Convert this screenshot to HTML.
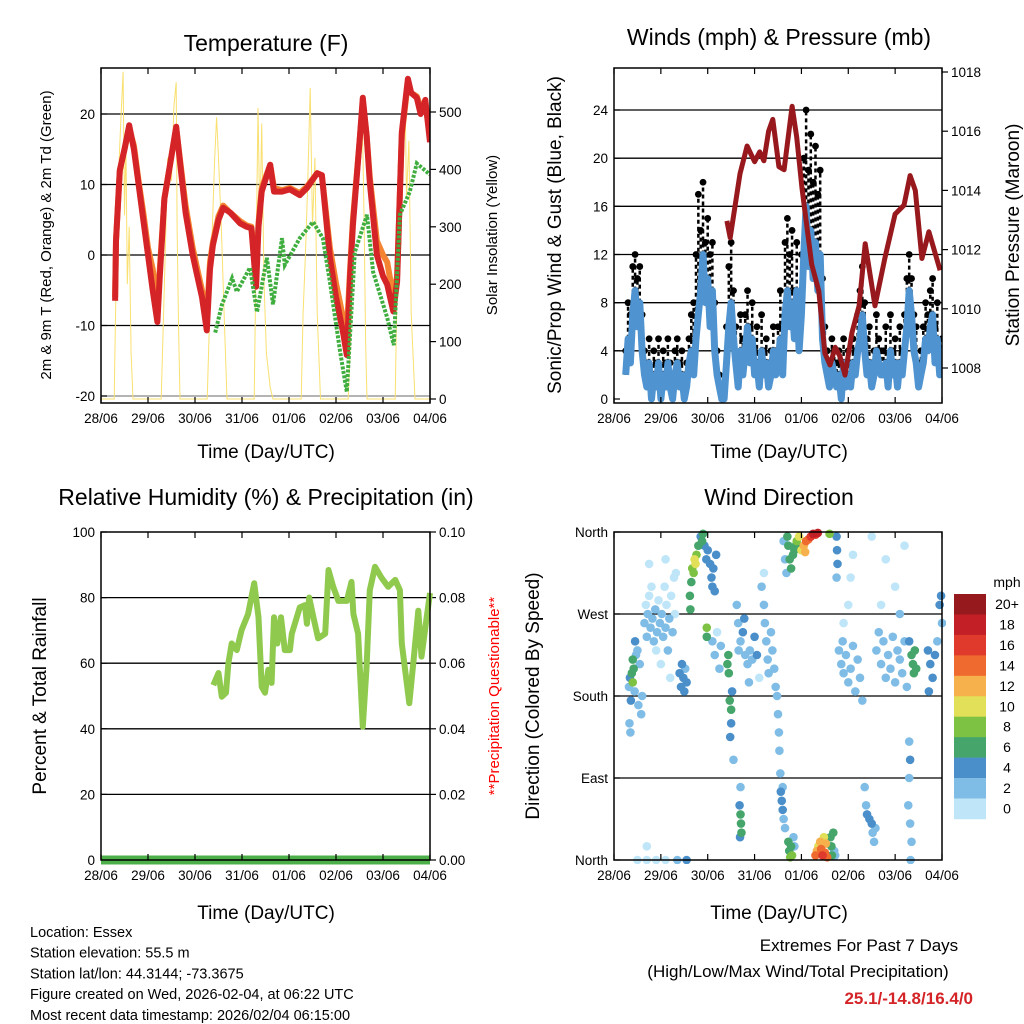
<!DOCTYPE html>
<html><head><meta charset="utf-8"><style>
html,body{margin:0;padding:0;background:#fff;}
svg{display:block;font-family:"Liberation Sans",sans-serif;}
</style></head><body>
<svg id="root" width="1024" height="1024" viewBox="0 0 1024 1024" xmlns="http://www.w3.org/2000/svg"></svg>
<script>
// ---------- DATA ----------
const dayLabels = ["28/06","29/06","30/06","31/06","01/06","02/06","03/06","04/06"];
const tempTicks = [-20,-10,0,10,20];
const solarTicks = [0,100,200,300,400,500];
const windTicks = [0,4,8,12,16,20,24];
const presTicks = [1008,1010,1012,1014,1016,1018];
const rhTicks = [0,20,40,60,80,100];
const rainTicks = ["0.00","0.02","0.04","0.06","0.08","0.10"];
const dirLabels = ["North","East","South","West","North"];
const speedBins = ["0","2","4","6","8","10","12","14","16","18","20+"];
const speedColors = ["#bfe6f8","#80bde6","#4a8fc9","#45a56b","#7dc242","#e2df58","#f6b04c","#ef6a2e","#df3a2b","#c21f26","#961a1d"];

const tempRed = [[0.3,-6.5],[0.32,2],[0.4,12],[0.5,15],[0.6,18.4],[0.7,15],[0.8,10],[0.9,5],[1.0,0],[1.1,-5],[1.2,-9.5],[1.25,-3],[1.35,8],[1.45,12],[1.6,18.2],[1.7,12],[1.8,6],[1.95,0],[2.05,-3],[2.15,-6],[2.25,-10.7],[2.32,-2],[2.38,1.4],[2.5,5],[2.6,6.7],[2.75,6],[2.96,4.5],[3.1,4],[3.2,3.8],[3.3,-4.5],[3.35,4],[3.42,9],[3.6,12.8],[3.68,9],[3.85,9],[4.02,9.3],[4.23,8.5],[4.38,9.5],[4.6,11.6],[4.7,11.3],[4.87,-0.4],[5.0,-6],[5.15,-11],[5.23,-14.2],[5.3,-3],[5.36,4.2],[5.5,16],[5.57,22.3],[5.65,17],[5.72,10.3],[5.87,0],[6.0,-3],[6.09,-4.2],[6.22,-8],[6.3,-3.8],[6.4,17.4],[6.53,25],[6.6,23],[6.72,22.3],[6.8,20],[6.9,22],[7.0,16]];
const tempOrange = [[0.3,-6],[0.32,2],[0.4,12],[0.5,15],[0.6,18],[0.7,15.5],[0.8,10.5],[0.9,6],[1.0,1],[1.1,-2],[1.2,-7],[1.25,-2],[1.35,8],[1.45,12],[1.6,18],[1.7,12.5],[1.8,7],[1.95,1],[2.05,-2],[2.15,-5],[2.25,-9],[2.32,-1],[2.38,1.8],[2.5,5.5],[2.6,7],[2.75,6],[2.96,4.8],[3.1,4.2],[3.2,4],[3.3,-3],[3.35,4.5],[3.42,9.5],[3.6,12.8],[3.68,9.5],[3.85,9.2],[4.02,9.5],[4.23,8.8],[4.38,9.7],[4.6,11.6],[4.7,11.3],[4.87,1],[5.0,-4],[5.15,-9],[5.23,-11],[5.3,-2],[5.36,5],[5.5,16],[5.57,21.5],[5.65,17],[5.72,11],[5.87,2],[6.0,0],[6.09,-1],[6.22,-6],[6.3,-3],[6.4,17],[6.53,24.5],[6.6,23],[6.72,22.5],[6.8,21],[6.9,21.5],[7.0,17]];
const dewGreen = [[2.43,-11],[2.57,-7.1],[2.79,-3.3],[2.89,-5.2],[3.17,-1.8],[3.32,-8.1],[3.53,-0.4],[3.66,-7],[3.85,2.4],[3.91,-1.4],[4.23,2.4],[4.51,4.7],[4.72,2.4],[4.87,-3.8],[5.09,-13.8],[5.23,-19.4],[5.4,0.4],[5.66,5.7],[5.79,-2.4],[6.09,-8.9],[6.23,-12.8],[6.36,5.7],[6.57,9],[6.72,13],[7.0,11.4]];
const solar = [[0.0,0],[0.28,0],[0.3,100],[0.35,350],[0.42,480],[0.47,570],[0.5,320],[0.53,450],[0.56,200],[0.6,300],[0.64,80],[0.68,0],[1.28,0],[1.35,200],[1.42,420],[1.5,380],[1.55,510],[1.6,552],[1.62,300],[1.65,120],[1.68,0],[2.26,0],[2.35,250],[2.42,420],[2.46,491],[2.5,420],[2.56,300],[2.62,150],[2.68,0],[3.26,0],[3.3,250],[3.34,507],[3.38,300],[3.42,480],[3.47,200],[3.52,80],[3.6,20],[3.66,0],[4.26,0],[4.3,150],[4.35,250],[4.4,380],[4.45,542],[4.5,300],[4.55,420],[4.6,150],[4.67,0],[5.26,0],[5.35,200],[5.45,420],[5.52,509],[5.56,490],[5.6,300],[5.63,100],[5.66,0],[6.26,0],[6.32,300],[6.4,460],[6.47,530],[6.5,350],[6.55,450],[6.6,150],[6.68,0],[7.0,0]];

const windStart = 0.25;
const windStep = 0.05;
const windSpeed = [2,5,3,7,9,6,8,4,2,1, 3,0,2,1,3,0,2,1,3,1, 0,2,3,1,2,0,1,3,4,2, 5,7,9,12,8,10,6,9,4,2, 1,0,0,3,6,8,5,3,1,4, 2,4,6,3,5,2,3,1,4,2, 3,1,2,4,2,3,5,2,7,9, 6,8,5,9,4,7,12,16,11,14, 10,13,9,12,5,3,2,1,3,2, 1,2,0,3,1,2,1,3,2,4, 5,7,4,2,3,1,2,4,3,2, 2,3,1,4,2,3,1,3,2,4, 6,9,7,4,3,1,2,3,5,4, 6,7,3,5,2,3];
const windGust = [4,8,7,11,12,10,11,7,4,3, 5,2,4,3,5,2,4,3,5,3, 2,4,5,3,4,2,3,5,7,8, 12,17,14,18,13,15,12,13,8,4, 2,0,1,6,11,13,9,6,3,7, 5,7,9,6,8,4,6,3,7,4, 5,3,4,6,4,6,9,5,13,15, 12,14,9,13,8,12,20,24,19,22, 18,21,17,19,10,6,4,3,5,4, 3,4,2,5,3,4,3,5,4,7, 9,11,8,5,6,3,4,7,5,4, 4,6,3,7,4,5,3,6,4,7, 10,12,10,7,6,3,4,6,8,7, 9,10,6,8,4,5];
const pressure = [[2.41,1012.97],[2.48,1012.4],[2.69,1014.56],[2.84,1015.5],[3.0,1014.97],[3.11,1015.3],[3.2,1015.0],[3.3,1016.0],[3.39,1016.4],[3.52,1014.8],[3.63,1014.7],[3.8,1016.84],[3.9,1015.8],[4.01,1014.1],[4.22,1011.5],[4.37,1010.6],[4.5,1008.5],[4.61,1008.1],[4.72,1008.7],[4.82,1008.4],[4.93,1007.76],[5.08,1009.2],[5.23,1010.1],[5.36,1012.2],[5.57,1010.1],[5.78,1011.7],[6.0,1013.2],[6.19,1013.5],[6.32,1014.5],[6.43,1014.0],[6.57,1011.7],[6.72,1012.6],[6.96,1011.3]];
const rh = [[2.39,53.3],[2.5,57],[2.57,49.8],[2.66,51],[2.71,60],[2.78,66],[2.89,64],[2.99,70],[3.13,75],[3.26,84.4],[3.35,74],[3.42,52.8],[3.49,51],[3.56,58],[3.63,54],[3.68,74],[3.75,66],[3.83,74],[3.91,64],[4.02,64],[4.06,69],[4.23,77],[4.34,77.7],[4.38,72],[4.43,80],[4.52,74],[4.62,67.6],[4.77,69],[4.84,88.4],[4.94,83.3],[5.05,79],[5.23,79],[5.33,84.8],[5.37,75],[5.47,69],[5.57,40.6],[5.65,59],[5.72,82.3],[5.83,89.4],[5.97,86],[6.11,83.3],[6.26,85.4],[6.36,82.3],[6.4,66],[6.56,47.8],[6.65,61],[6.75,76],[6.82,62],[6.93,74],[7.0,81.4]];
const rainTotal = [[0,0],[7,0]];

const dirObs = [[0.32,190,3],[0.34,200,4],[0.36,175,4],[0.38,205,7],[0.40,195,8],[0.42,210,7],[0.44,185,3],[0.47,225,3],[0.5,230,2],[0.52,170,2],[0.55,215,3],[0.58,160,2],[0.33,150,2],[0.35,140,2],[0.6,180,2],[0.4,220,6],[0.45,240,4],
[0.65,260,2],[0.68,280,1],[0.7,245,2],[0.72,270,2],[0.75,290,1],[0.78,255,2],[0.8,300,1],[0.82,265,2],[0.85,240,2],[0.88,275,2],[0.9,230,1],[0.92,250,2],[0.95,285,1],[0.98,260,2],[1.0,215,1],[1.02,270,2],[1.05,245,2],[1.08,300,1],[1.1,255,2],[1.12,280,1],[1.15,230,2],[1.18,265,2],[1.2,200,1],[1.22,290,1],[1.25,250,2],[1.28,310,1],[1.3,270,1],[1.32,315,1],[0.75,325,1],[1.1,330,1],
[1.4,205,4],[1.43,190,4],[1.45,215,5],[1.48,200,4],[1.5,185,4],[1.52,210,3],[1.55,195,4],
[1.62,290,6],[1.65,305,7],[1.67,320,8],[1.7,315,9],[1.72,330,10],[1.74,325,11],[1.76,335,8],[1.8,345,6],[1.85,355,5],[1.88,350,6],[1.9,358,7],[1.93,345,4],[1.97,330,4],[2.0,340,4],[1.63,275,6],
[2.05,325,4],[2.08,310,4],[2.1,300,4],[2.12,320,4],[2.15,295,4],[2.18,335,4],
[2.1,240,2],[2.15,225,2],[2.2,250,1],[2.25,210,2],[2.28,235,2],[1.98,255,9],[1.98,245,7],
[2.42,215,6],[2.44,225,6],[2.45,205,6],[2.47,175,6],[2.5,165,7],[2.52,185,4],[2.5,150,5],[2.48,135,4],[2.55,110,3],
[2.7,50,6],[2.71,40,6],[2.72,30,7],[2.69,25,5],[2.68,60,4],[2.7,80,3],
[2.62,280,2],[2.65,260,2],[2.7,240,3],[2.75,250,4],[2.8,225,3],[2.85,215,2],[2.9,230,3],[2.95,220,2],[3.0,245,4],[3.05,225,4],[2.78,265,4],[2.66,230,2],[2.88,195,2],[3.1,200,1],
[3.15,300,2],[3.2,280,2],[3.22,260,2],[3.25,240,2],[3.28,220,2],[3.3,205,2],[3.35,250,2],[3.38,230,2],[3.42,210,2],[3.45,190,2],[3.48,180,2],[3.2,315,1],
[3.5,160,3],[3.52,140,2],[3.53,120,2],[3.55,95,3],[3.56,75,4],[3.58,65,4],[3.6,55,4],[3.62,45,3],[3.65,35,2],[3.6,80,3],
[3.72,20,6],[3.74,10,7],[3.76,3,8],[3.78,15,7],[3.8,5,8],[3.83,25,3],[3.85,15,3],
[3.7,355,6],[3.72,345,6],[3.75,330,6],[3.78,320,7],[3.82,335,6],[3.85,340,7],[3.88,345,6],[3.9,350,8],[3.95,355,10],[3.62,350,2],[3.65,330,3],[3.68,315,2],
[4.0,340,10],[4.05,345,12],[4.1,350,14],[4.15,352,15],[4.2,355,17],[4.25,358,18],[4.3,357,16],[4.35,359,18],[4.08,338,12],
[4.3,5,14],[4.33,10,12],[4.36,15,11],[4.4,20,12],[4.42,12,14],[4.45,5,16],[4.5,8,15],[4.52,18,13],[4.55,3,15],[4.48,25,11],
[4.62,25,6],[4.64,15,7],[4.65,5,6],[4.68,30,6],[4.7,10,3],[4.72,5,3],
[4.75,355,4],[4.76,340,4],[4.77,325,4],[4.75,310,3],[4.6,358,8],
[4.8,230,2],[4.85,215,2],[4.88,240,2],[4.9,205,2],[4.95,225,2],[5.0,195,2],[5.05,210,2],[5.1,235,2],[5.15,185,2],[5.2,220,3],[5.25,200,3],[5.3,175,3],[4.9,260,1],[5.0,280,1],[5.05,310,1],[5.1,335,1],
[5.35,80,3],[5.38,60,3],[5.4,50,4],[5.45,45,4],[5.5,40,4],[5.52,30,3],[5.55,20,2],[5.58,35,3],
[5.6,230,2],[5.65,250,2],[5.7,215,2],[5.75,240,2],[5.8,200,2],[5.85,225,2],[5.9,210,2],[5.95,245,2],[6.0,195,2],[6.05,230,2],[6.1,220,2],[6.15,205,2],[6.2,240,2],[6.25,190,2],[5.7,280,1],[6.0,300,1],[5.8,330,1],[6.2,345,1],[5.5,355,1],[6.1,270,2],
[6.35,225,6],[6.38,215,7],[6.4,205,6],[6.42,230,6],[6.45,210,6],[6.3,240,4],
[6.3,130,2],[6.32,110,4],[6.3,90,2],[6.28,60,2],[6.32,40,3],[6.35,20,2],[6.33,0,2],
[6.7,230,4],[6.75,215,4],[6.8,200,4],[6.85,225,4],[6.9,240,3],[6.95,280,4],[6.98,290,4],[7.0,260,3],[6.72,185,4],
[0.5,0,1],[0.7,0,1],[0.9,0,1],[1.1,0,1],[1.35,0,2],[1.55,0,4],[0.7,15,1]];

// ---------- HELPERS ----------
const NS = "http://www.w3.org/2000/svg";
const root = document.getElementById("root");
function mk(tag, attrs, parent){
  const e = document.createElementNS(NS, tag);
  for (const k in attrs) e.setAttribute(k, attrs[k]);
  (parent||root).appendChild(e);
  return e;
}
function txt(s, x, y, size, anchor, parent, fill, rot, weight){
  const e = mk("text", {x:x, y:y, "font-size":size, "text-anchor":anchor||"middle", fill:fill||"#000"}, parent);
  if (rot) e.setAttribute("transform", "rotate("+rot+" "+x+" "+y+")");
  if (weight) e.setAttribute("font-weight", weight);
  e.textContent = s;
  return e;
}
function linScale(d0,d1,r0,r1){ return v => r0 + (v-d0)/(d1-d0)*(r1-r0); }

function frame(g, L, T, R, B){
  const r = mk("rect", {x:L, y:T, width:R-L, height:B-T, fill:"none", stroke:"#000", "stroke-width":1.5}, g);
  
  
  for (let d=0; d<=7; d++){
    const x = L + d*(R-L)/7;
    const t1 = mk("line", {x1:x, y1:B, x2:x, y2:B-6, stroke:"#000", "stroke-width":1.2}, g);
    
    
    const t2 = mk("line", {x1:x, y1:T, x2:x, y2:T+6, stroke:"#000", "stroke-width":1.2}, g);
    
    
    const lb = txt(dayLabels[d], x, B+20, 13.5, "middle", g);
    
    
  }
}
function gridLine(g, L, R, y, color){
  const l = mk("line", {x1:L, y1:y, x2:R, y2:y, stroke:color||"#000", "stroke-width":1.3}, g);
  
  
}
function leftTick(g, L, y, label){
  const t = mk("line", {x1:L, y1:y, x2:L+6, y2:y, stroke:"#000", "stroke-width":1.2}, g);
  
  
  const lb = txt(label, L-6, y+5, 13.5, "end", g);
  
  
}
function rightTick(g, R, y, label){
  const t = mk("line", {x1:R, y1:y, x2:R+6, y2:y, stroke:"#000", "stroke-width":1.2}, g);
  
  
  const lb = txt(label, R+9, y+5, 13.5, "start", g);
  
  
}
function pathFrom(pts, xs, ys){
  return pts.map((p,i)=>(i?"L":"M")+xs(p[0]).toFixed(1)+" "+ys(p[1]).toFixed(1)).join(" ");
}

// ---------- PANEL 1: TEMPERATURE ----------
(function(){
  const L=101,T=68,R=430,B=403;
  const g = mk("g", {});
  
  
  const xs = linScale(0,7,L,R);
  const ys = linScale(-20,20,396,114);
  const ss = linScale(0,500,399,112);
  tempTicks.forEach(v=>{ gridLine(g,L,R,ys(v), v===-20?"#888":"#000"); leftTick(g,L,ys(v),String(v)); });
  solarTicks.forEach(v=>rightTick(g,R,ss(v),String(v)));
  const clip = mk("clipPath", {id:"c1"}, g);
  mk("rect", {x:L, y:T, width:R-L, height:B-T}, clip);
  const sl = mk("path", {d:pathFrom(solar,xs,ss), fill:"none", stroke:"#f9e070", "stroke-width":1, "clip-path":"url(#c1)"}, g);
  
  
  const ol = mk("path", {d:pathFrom(tempOrange,xs,ys), fill:"none", stroke:"#f58432", "stroke-width":6, "stroke-linejoin":"round", "clip-path":"url(#c1)"}, g);
  
  
  const rl = mk("path", {d:pathFrom(tempRed,xs,ys), fill:"none", stroke:"#d42427", "stroke-width":6, "stroke-linejoin":"round", "clip-path":"url(#c1)"}, g);
  
  
  const gl = mk("path", {d:pathFrom(dewGreen,xs,ys), fill:"none", stroke:"#3fae3f", "stroke-width":4, "stroke-dasharray":"3 1.5", "clip-path":"url(#c1)"}, g);
  
  
  frame(g,L,T,R,B);
  const ti = txt("Temperature (F)", 266, 51, 23, "middle", g);
  
  
  const xt = txt("Time (Day/UTC)", 266, 458, 19, "middle", g);
  
  
  const yl = txt("2m & 9m T (Red, Orange) & 2m Td (Green)", 51, 235, 15, "middle", g, "#000", -90);
  
  
  const yr = txt("Solar Insolation (Yellow)", 497, 235, 15, "middle", g, "#000", -90);
  
  
})();

// ---------- PANEL 2: WINDS ----------
(function(){
  const L=614,T=68,R=942,B=403;
  const g = mk("g", {});
  
  
  const xs = linScale(0,7,L,R);
  const ys = linScale(0,24,399,110);
  const ps = linScale(1008,1018,368,72);
  windTicks.forEach(v=>{ if(v>0) gridLine(g,L,R,ys(v)); leftTick(g,L,ys(v),String(v)); });
  presTicks.forEach(v=>rightTick(g,R,ps(v),String(v)));
  const clip = mk("clipPath", {id:"c2"}, g);
  mk("rect", {x:L, y:T, width:R-L, height:B-T}, clip);
  const gg = mk("g", {"clip-path":"url(#c2)"}, g);
  
  
  windGust.forEach((v,i)=>{
    const t = windStart + i*windStep, x = xs(t);
    const ln = mk("line", {x1:x, y1:ys(windSpeed[i]), x2:x, y2:ys(v), stroke:"#000", "stroke-width":2.5, "stroke-dasharray":"4 3"}, gg);
    
    
    const c = mk("circle", {cx:x, cy:ys(v), r:3.4, fill:"#000"}, gg);
    
    
  });
  const wpts = windSpeed.map((v,i)=>[windStart+i*windStep, v]);
  const wl = mk("path", {d:pathFrom(wpts,xs,ys), fill:"none", stroke:"#4f94d0", "stroke-width":7, "stroke-linejoin":"round", "clip-path":"url(#c2)"}, g);
  
  
  const pl = mk("path", {d:pathFrom(pressure,xs,ps), fill:"none", stroke:"#98191d", "stroke-width":5, "stroke-linejoin":"round", "clip-path":"url(#c2)"}, g);
  
  
  frame(g,L,T,R,B);
  const ti = txt("Winds (mph) & Pressure (mb)", 779, 45, 23, "middle", g);
  
  
  const xt = txt("Time (Day/UTC)", 779, 458, 19, "middle", g);
  
  
  const yl = txt("Sonic/Prop Wind & Gust (Blue, Black)", 561, 235, 19, "middle", g, "#000", -90);
  
  
  const yr = txt("Station Pressure (Maroon)", 1019, 235, 19, "middle", g, "#000", -90);
  
  
})();

// ---------- PANEL 3: RH ----------
(function(){
  const L=101,T=532,R=430,B=860;
  const g = mk("g", {});
  
  
  const xs = linScale(0,7,L,R);
  const ys = linScale(0,100,860,532);
  const rs = linScale(0,0.10,860,532);
  rhTicks.forEach(v=>{ if(v>0&&v<100) gridLine(g,L,R,ys(v)); leftTick(g,L,ys(v),String(v)); });
  rainTicks.forEach(v=>rightTick(g,R,rs(parseFloat(v)),v));
  const rl = mk("path", {d:pathFrom(rh,xs,ys), fill:"none", stroke:"#8fca4e", "stroke-width":6, "stroke-linejoin":"round"}, g);
  
  
  const pr = mk("path", {d:pathFrom(rainTotal,xs,rs), fill:"none", stroke:"#4caf4a", "stroke-width":9}, g);
  
  
  frame(g,L,T,R,B);
  const ti = txt("Relative Humidity (%) & Precipitation (in)", 266, 505, 23, "middle", g);
  
  
  const xt = txt("Time (Day/UTC)", 266, 919, 19, "middle", g);
  
  
  const yl = txt("Percent & Total Rainfall", 46, 696, 19, "middle", g, "#000", -90);
  
  
  const yr = txt("**Precipitation Questionable**", 499, 696, 15, "middle", g, "#ff0000", -90);
  
  
})();

// ---------- PANEL 4: WIND DIRECTION ----------
(function(){
  const L=614,T=532,R=942,B=860;
  const g = mk("g", {});
  
  
  const xs = linScale(0,7,L,R);
  const ys = linScale(0,360,860,532);
  dirLabels.forEach((lab,i)=>{ const y = ys(i*90); if(i>0&&i<4) gridLine(g,L,R,y); leftTick(g,L,y,lab); });
  const clip = mk("clipPath", {id:"c4"}, g);
  mk("rect", {x:L-4, y:T-4, width:R-L+8, height:B-T+8}, clip);
  const pg = mk("g", {"clip-path":"url(#c4)"}, g);
  
  
  const ordered = dirObs.slice().sort((a,b)=>a[2]-b[2]);
  ordered.forEach(o=>{
    const bin = Math.max(0, Math.min(10, Math.floor(o[2]/2)));
    const c = mk("circle", {cx:xs(o[0]), cy:ys(o[1]), r:4.3, fill:speedColors[bin]}, pg);
    
    
  });
  frame(g,L,T,R,B);
  const ti = txt("Wind Direction", 779, 505, 23, "middle", g);
  
  
  const xt = txt("Time (Day/UTC)", 779, 919, 19, "middle", g);
  
  
  const yl = txt("Direction (Colored By Speed)", 539, 696, 19, "middle", g, "#000", -90);
  
  
  const cb = mk("g", {}, g);
  
  
  const top=594, bh=20.45;
  const un = txt("mph", 1007, 587, 14, "middle", cb);
  
  
  speedBins.forEach((lab,i)=>{
    const k = 10-i;
    const r = mk("rect", {x:954, y:top+i*bh, width:32, height:bh+0.3, fill:speedColors[k]}, cb);
    
    
    const t = txt(speedBins[k], 1007, top+i*bh+15, 14, "middle", cb);
    
    
  });
})();

// ---------- FOOTER TEXT ----------
(function(){
  const g = mk("g", {});
  
  
  const lines = ["Location: Essex","Station elevation: 55.5 m","Station lat/lon: 44.3144; -73.3675","Figure created on Wed, 2026-02-04, at 06:22 UTC","Most recent data timestamp: 2026/02/04 06:15:00"];
  lines.forEach((s,i)=>{
    const t = txt(s, 30, 937+i*20.7, 14.5, "start", g);
    
    
  });
  const e = mk("g", {});
  
  
  const a = txt("Extremes For Past 7 Days", 859, 951, 17, "middle", e);
  
  
  const b = txt("(High/Low/Max Wind/Total Precipitation)", 798, 977, 17, "middle", e);
  
  
  const c = txt("25.1/-14.8/16.4/0", 973, 1004, 17, "end", e, "#d42427", 0, "bold");
  
  
})();
</script>
</body></html>
